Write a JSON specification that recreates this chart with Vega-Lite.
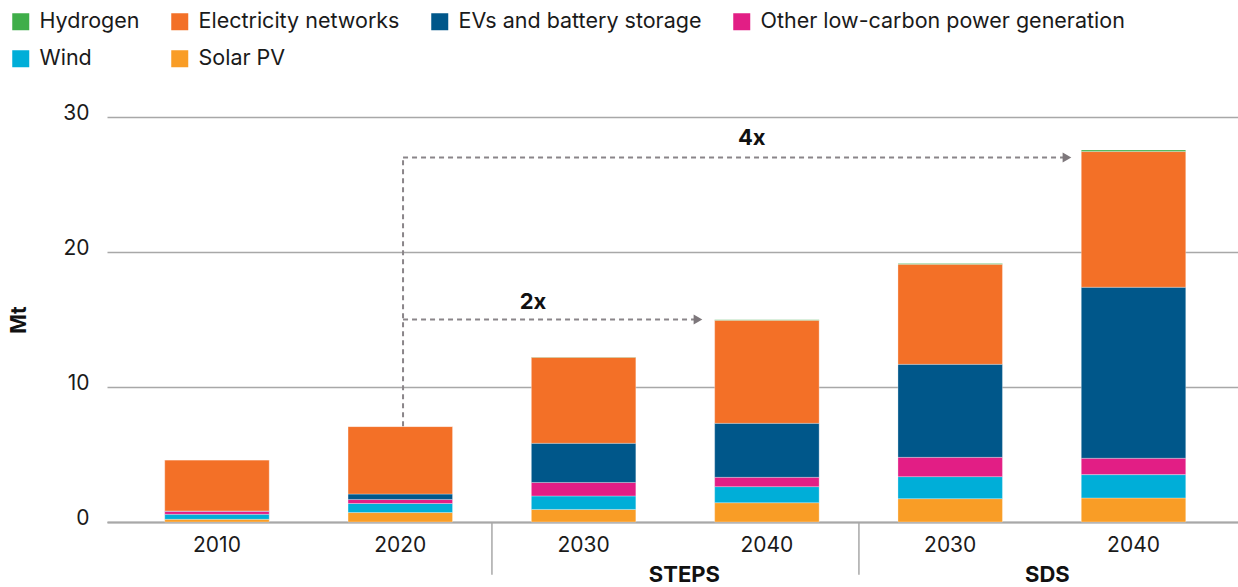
{
  "$schema": "https://vega.github.io/schema/vega-lite/v6.json",
  "width": 1131,
  "height": 405,
  "autosize": {"type": "none"},
  "padding": {"left": 107, "top": 117, "right": 0, "bottom": 65},
  "background": "white",
  "config": {
    "font": "Inter",
    "view": {"stroke": null},
    "axisY": {
      "titleFontSize": 21,
      "titleFontWeight": "bold",
      "titleColor": "#111111",
      "titlePadding": 33,
      "labelFontSize": 21,
      "labelColor": "#1a1a1a",
      "labelPadding": 18,
      "labelOffset": -4,
      "ticks": false,
      "domain": false,
      "gridColor": "#a8a8a8",
      "gridWidth": 1.5,
      "tickCount": 3
    }
  },
  "datasets": {
    "bars": [
      {"cat": "2010", "tech": "Solar PV", "rank": 1, "value": 0.2},
      {"cat": "2010", "tech": "Wind", "rank": 2, "value": 0.37},
      {"cat": "2010", "tech": "Other low-carbon power generation", "rank": 3, "value": 0.22},
      {"cat": "2010", "tech": "EVs and battery storage", "rank": 4, "value": 0.03},
      {"cat": "2010", "tech": "Electricity networks", "rank": 5, "value": 3.78},
      {"cat": "2010", "tech": "Hydrogen", "rank": 6, "value": 0},
      {"cat": "2020", "tech": "Solar PV", "rank": 1, "value": 0.7},
      {"cat": "2020", "tech": "Wind", "rank": 2, "value": 0.67},
      {"cat": "2020", "tech": "Other low-carbon power generation", "rank": 3, "value": 0.3},
      {"cat": "2020", "tech": "EVs and battery storage", "rank": 4, "value": 0.4},
      {"cat": "2020", "tech": "Electricity networks", "rank": 5, "value": 5.0},
      {"cat": "2020", "tech": "Hydrogen", "rank": 6, "value": 0},
      {"cat": "STEPS 2030", "tech": "Solar PV", "rank": 1, "value": 0.93},
      {"cat": "STEPS 2030", "tech": "Wind", "rank": 2, "value": 1.0},
      {"cat": "STEPS 2030", "tech": "Other low-carbon power generation", "rank": 3, "value": 1.0},
      {"cat": "STEPS 2030", "tech": "EVs and battery storage", "rank": 4, "value": 2.9},
      {"cat": "STEPS 2030", "tech": "Electricity networks", "rank": 5, "value": 6.37},
      {"cat": "STEPS 2030", "tech": "Hydrogen", "rank": 6, "value": 0.03},
      {"cat": "STEPS 2040", "tech": "Solar PV", "rank": 1, "value": 1.43},
      {"cat": "STEPS 2040", "tech": "Wind", "rank": 2, "value": 1.19},
      {"cat": "STEPS 2040", "tech": "Other low-carbon power generation", "rank": 3, "value": 0.69},
      {"cat": "STEPS 2040", "tech": "EVs and battery storage", "rank": 4, "value": 4.0},
      {"cat": "STEPS 2040", "tech": "Electricity networks", "rank": 5, "value": 7.63},
      {"cat": "STEPS 2040", "tech": "Hydrogen", "rank": 6, "value": 0.04},
      {"cat": "SDS 2030", "tech": "Solar PV", "rank": 1, "value": 1.73},
      {"cat": "SDS 2030", "tech": "Wind", "rank": 2, "value": 1.63},
      {"cat": "SDS 2030", "tech": "Other low-carbon power generation", "rank": 3, "value": 1.43},
      {"cat": "SDS 2030", "tech": "EVs and battery storage", "rank": 4, "value": 6.89},
      {"cat": "SDS 2030", "tech": "Electricity networks", "rank": 5, "value": 7.41},
      {"cat": "SDS 2030", "tech": "Hydrogen", "rank": 6, "value": 0.05},
      {"cat": "SDS 2040", "tech": "Solar PV", "rank": 1, "value": 1.78},
      {"cat": "SDS 2040", "tech": "Wind", "rank": 2, "value": 1.73},
      {"cat": "SDS 2040", "tech": "Other low-carbon power generation", "rank": 3, "value": 1.21},
      {"cat": "SDS 2040", "tech": "EVs and battery storage", "rank": 4, "value": 12.67},
      {"cat": "SDS 2040", "tech": "Electricity networks", "rank": 5, "value": 10.05},
      {"cat": "SDS 2040", "tech": "Hydrogen", "rank": 6, "value": 0.12}
    ],
    "arrowLines": [
      {"x1": 1.015, "x2": 1.015, "y1": 7.1, "y2": 27},
      {"x1": 1.015, "x2": 2.624, "y1": 15, "y2": 15},
      {"x1": 1.015, "x2": 4.637, "y1": 27, "y2": 27}
    ],
    "arrowHeads": [
      {"x": 2.624, "y": 15},
      {"x": 4.637, "y": 27}
    ],
    "arrowLabels": [
      {"x": 1.724, "y": 16.26, "t": "2x"},
      {"x": 2.917, "y": 28.48, "t": "4x"}
    ],
    "separators": [
      {"x": 1.5},
      {"x": 3.502}
    ],
    "groups": [
      {"x": 2.55, "t": "STEPS"},
      {"x": 4.53, "t": "SDS"}
    ]
  },
  "layer": [
    {
      "data": {"name": "bars"},
      "mark": {"type": "bar", "stroke": "#ffffff", "strokeWidth": 0.6, "strokeOpacity": 0.5},
      "encoding": {
        "x": {
          "field": "cat",
          "type": "nominal",
          "sort": ["2010", "2020", "STEPS 2030", "STEPS 2040", "SDS 2030", "SDS 2040"],
          "scale": {"paddingInner": 0.43, "paddingOuter": 0.3, "align": 0.525},
          "axis": {
            "title": null,
            "labelExpr": "slice(datum.label, -4)",
            "labelFontSize": 21,
            "labelColor": "#1a1a1a",
            "labelPadding": 12,
            "labelAngle": 0,
            "ticks": false,
            "domainColor": "#a8a8a8",
            "domainWidth": 2
          }
        },
        "y": {
          "field": "value",
          "type": "quantitative",
          "stack": "zero",
          "title": "Mt",
          "scale": {"domain": [0, 30], "nice": false}
        },
        "order": {"field": "rank", "type": "quantitative", "sort": "ascending"},
        "color": {
          "field": "tech",
          "type": "nominal",
          "sort": ["Hydrogen", "Electricity networks", "EVs and battery storage", "Other low-carbon power generation", "Wind", "Solar PV"],
          "scale": {
            "range": ["#3fae49", "#f37027", "#00578a", "#e21e85", "#00aed8", "#f99d26"]
          },
          "legend": {
            "orient": "none",
            "legendX": -97,
            "legendY": -106,
            "direction": "horizontal",
            "columns": 4,
            "gridAlign": "none",
            "title": null,
            "symbolType": "square",
            "symbolSize": 289,
            "symbolStrokeWidth": 0,
            "symbolOpacity": 1,
            "labelFontSize": 21.5,
            "labelColor": "#1a1a1a",
            "labelOffset": 8,
            "labelLimit": 600,
            "columnPadding": 29,
            "rowPadding": 14,
            "padding": 0
          }
        }
      }
    },
    {
      "data": {"name": "arrowLines"},
      "mark": {"type": "rule", "color": "#8a8589", "strokeWidth": 2, "strokeDash": [5, 4]},
      "encoding": {
        "x": {"field": "x1", "type": "quantitative", "scale": {"domain": [-0.6, 5.57], "nice": false, "zero": false}, "axis": null},
        "x2": {"field": "x2"},
        "y": {"field": "y1", "type": "quantitative", "title": "Mt"},
        "y2": {"field": "y2"}
      }
    },
    {
      "data": {"name": "arrowHeads"},
      "mark": {"type": "point", "shape": "triangle-right", "filled": true, "size": 100, "color": "#7d777b", "opacity": 1},
      "encoding": {
        "x": {"field": "x", "type": "quantitative", "scale": {"domain": [-0.6, 5.57], "nice": false, "zero": false}, "axis": null},
        "y": {"field": "y", "type": "quantitative", "title": "Mt"}
      }
    },
    {
      "data": {"name": "arrowLabels"},
      "mark": {"type": "text", "fontSize": 22, "fontWeight": "bold", "color": "#111111", "baseline": "middle", "align": "center"},
      "encoding": {
        "x": {"field": "x", "type": "quantitative", "scale": {"domain": [-0.6, 5.57], "nice": false, "zero": false}, "axis": null},
        "y": {"field": "y", "type": "quantitative", "title": "Mt"},
        "text": {"field": "t"}
      }
    },
    {
      "data": {"name": "separators"},
      "mark": {"type": "rule", "color": "#a8a8a8", "strokeWidth": 1.5},
      "encoding": {
        "x": {"field": "x", "type": "quantitative", "scale": {"domain": [-0.6, 5.57], "nice": false, "zero": false}, "axis": null},
        "y": {"datum": 0, "type": "quantitative", "title": "Mt"},
        "y2": {"datum": -3.9}
      }
    },
    {
      "data": {"name": "groups"},
      "mark": {"type": "text", "fontSize": 22, "fontWeight": "bold", "color": "#111111", "baseline": "middle", "align": "center"},
      "encoding": {
        "x": {"field": "x", "type": "quantitative", "scale": {"domain": [-0.6, 5.57], "nice": false, "zero": false}, "axis": null},
        "y": {"datum": -3.89, "type": "quantitative", "title": "Mt"},
        "text": {"field": "t"}
      }
    }
  ],
  "resolve": {"scale": {"x": "independent"}}
}
